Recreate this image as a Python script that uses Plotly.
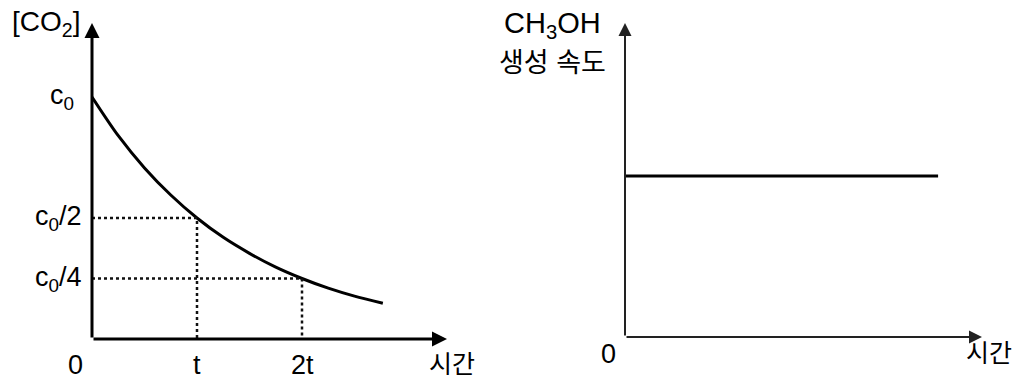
import plotly.graph_objects as go

# left panel: [CO2] decay, time in units of t, concentration in units of c0
decayTime = [0, 0.25, 0.5, 0.75, 1.0, 1.25, 1.5, 1.75, 2.0, 2.25, 2.5, 2.77]
decayConc = [1.0, 0.84, 0.707, 0.595, 0.5, 0.42, 0.354, 0.297, 0.25, 0.21, 0.177, 0.148]
guideTimes = [1, 2]
guideConcs = [0.5, 0.25]
leftYTicks = [1.0, 0.5, 0.25]
leftYLabels = ["c<sub>0</sub>", "c<sub>0</sub>/2", "c<sub>0</sub>/4"]
leftXTicks = [0, 1, 2]
leftXLabels = ["0", "t", "2t"]

# right panel: CH3OH formation rate, constant
rateTime = [0, 0.877]
rateValue = [0.513, 0.513]

FONT = "Liberation Sans, Arial, Noto Sans CJK KR, sans-serif"
W, H = 1022, 376
OFF = 8  # page body margin


def px(x):
    return (x - OFF) / W


def py(y):
    return 1 - (y - OFF) / H


fig = go.Figure()

fig.add_trace(go.Scatter(x=decayTime, y=decayConc, mode="lines",
                         line=dict(color="black", width=3, shape="spline", smoothing=0.8),
                         xaxis="x", yaxis="y", hoverinfo="skip"))

for gt, gc in zip(guideTimes, guideConcs):
    fig.add_trace(go.Scatter(x=[0, gt, gt], y=[gc, gc, 0], mode="lines",
                             line=dict(color="#111", width=2.5, dash="dot"),
                             xaxis="x", yaxis="y", hoverinfo="skip"))

fig.add_trace(go.Scatter(x=rateTime, y=rateValue, mode="lines",
                         line=dict(color="black", width=3),
                         xaxis="x2", yaxis="y2", hoverinfo="skip"))

axisOff = dict(showgrid=False, zeroline=False, showticklabels=False, showline=False, ticks="")

fig.update_layout(
    width=W, height=H,
    margin=dict(l=0, r=0, t=0, b=0),
    paper_bgcolor="white", plot_bgcolor="white",
    showlegend=False,
    font=dict(family=FONT, color="black", size=27),
    xaxis=dict(domain=[px(92), px(445)], range=[0, (445 - 92) / 105], anchor="y", **axisOff),
    yaxis=dict(domain=[py(339), py(23)], range=[0, (339 - 23) / 242], anchor="x", **axisOff),
    xaxis2=dict(domain=[px(625), px(982)], range=[0, 1], anchor="y2", **axisOff),
    yaxis2=dict(domain=[py(337), py(23)], range=[0, 1], anchor="x2", **axisOff),
)

ann = []
# axes with arrowheads
ann.append(dict(x=(447 - 92) / 105, y=0, ax=0, ay=0, xref="x", yref="y", axref="x", ayref="y",
                showarrow=True, arrowhead=2, arrowsize=1, arrowwidth=3, arrowcolor="black", text=""))
ann.append(dict(x=0, y=(339 - 23) / 242, ax=0, ay=0, xref="x", yref="y", axref="x", ayref="y",
                showarrow=True, arrowhead=2, arrowsize=1, arrowwidth=3, arrowcolor="black", text=""))
ann.append(dict(x=1, y=0, ax=0, ay=0, xref="x2", yref="y2", axref="x2", ayref="y2",
                showarrow=True, arrowhead=2, arrowsize=1.3, arrowwidth=2, arrowcolor="#222", text=""))
ann.append(dict(x=0, y=1, ax=0, ay=0, xref="x2", yref="y2", axref="x2", ayref="y2",
                showarrow=True, arrowhead=2, arrowsize=1.3, arrowwidth=2, arrowcolor="#222", text=""))

# left tick labels
for v, lab in zip(leftYTicks, leftYLabels):
    ann.append(dict(x=0, y=v, xref="x", yref="y", text=lab, showarrow=False,
                    xanchor="right", yanchor="middle", xshift=-16 if v == 1.0 else -8))
for v, lab in zip(leftXTicks, leftXLabels):
    ann.append(dict(x=v, y=0, xref="x", yref="y", text=lab, showarrow=False,
                    xanchor="center", yanchor="top", yshift=-9, xshift=-17 if v == 0 else 0))
ann.append(dict(x=px(452), y=py(348), xref="paper", yref="paper", text="시간", showarrow=False,
                xanchor="center", yanchor="top", font=dict(size=25)))
ann.append(dict(x=px(46), y=py(24), xref="paper", yref="paper", text="[CO<sub>2</sub>]", showarrow=False,
                xanchor="center", yanchor="middle", font=dict(size=28)))

# right labels
ann.append(dict(x=px(552), y=py(25), xref="paper", yref="paper", text="CH<sub>3</sub>OH", showarrow=False,
                xanchor="center", yanchor="middle", font=dict(size=29)))
ann.append(dict(x=px(552), y=py(63), xref="paper", yref="paper", text="생성 속도", showarrow=False,
                xanchor="center", yanchor="middle", font=dict(size=27)))
ann.append(dict(x=px(608), y=py(337), xref="paper", yref="paper", text="0", showarrow=False,
                xanchor="center", yanchor="top"))
ann.append(dict(x=px(989), y=py(337), xref="paper", yref="paper", text="시간", showarrow=False,
                xanchor="center", yanchor="top", font=dict(size=25)))

fig.update_layout(annotations=ann)

fig.write_html("out.html")
